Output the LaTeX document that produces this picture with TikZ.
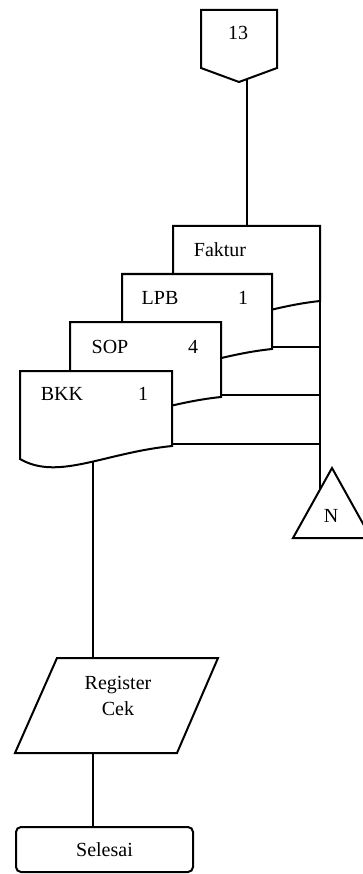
\documentclass[tikz,border=0pt]{standalone}
\usepackage{fontspec}
\setmainfont{Liberation Serif}
\usetikzlibrary{calc}
\newcommand\docshape[4]{%
  \draw[ln, fill=white] (#2,#3) coordinate (#1-tl) -- (#2+#4,#3) coordinate (#1-tr)
    -- (#2+#4,#3+75) coordinate (#1-br)
    .. controls (#2+0.55*#4,#3+82) and (#2+0.25*#4,#3+110) .. (#2,#3+88) coordinate (#1-bl)
    -- cycle;}
\begin{document}
\begin{tikzpicture}[x=1pt,y=-1pt,
  ln/.style={line width=2pt, line join=miter},
  lbl/.style={font=\fontsize{20}{26}\selectfont, inner sep=0pt},
]
\useasboundingbox (0,0) rectangle (363,874);
\begin{scope}
\clip (0,0) rectangle (363,874);
% off-page connector 13
\draw[ln] (201,10) coordinate (c-tl) -- (277,10) coordinate (c-tr) -- (277,68)
  -- (239,82) coordinate (c-pt) -- (201,68) -- cycle;
\node[lbl] (c13) at (238,33) {13};
\coordinate (c-out) at (247,79);
% documents
\docshape{fak}{173}{226}{147}
\node[lbl] (tfak) at (220,250) {Faktur};
\docshape{lpb}{122}{274}{150}
\node[lbl] (tlpb) at (160,298) {LPB};
\node[lbl] (nlpb) at (243,298) {1};
\docshape{sop}{70}{322}{151}
\node[lbl] (tsop) at (110,347) {SOP};
\node[lbl] (nsop) at (193,347) {4};
\docshape{bkk}{20}{371}{152}
\node[lbl] (tbkk) at (62,394) {BKK};
\node[lbl] (nbkk) at (143,394) {1};
\draw[ln] (c-out) -- (c-out |- fak-tl);
% triangle N
\draw[ln] (332,468) coordinate (n-apex) -- (371,538) coordinate (n-br)
  -- (293,538) coordinate (n-bl) -- cycle;
\node[lbl] (nN) at (331,516) {N};
\coordinate (n-hit) at ($(n-bl)!0.69!(n-apex)$);
\draw[ln] (fak-br) -- (fak-br |- n-hit);
\draw[ln] ($(lpb-br)+(0,-2)$) -- ($(lpb-br -| fak-br)+(0,-2)$);
\draw[ln] ($(sop-br)+(0,-2)$) -- ($(sop-br -| fak-br)+(0,-2)$);
\draw[ln] ($(bkk-br)+(0,-2)$) -- ($(bkk-br -| fak-br)+(0,-2)$);
% register cek
\draw[ln] (57,658) coordinate (r-tl) -- (218,658) coordinate (r-tr)
  -- (177,753) coordinate (r-br) -- (15,753) coordinate (r-bl) -- cycle;
\node[lbl, align=center] (reg) at (118,696) {Register\\Cek};
\coordinate (bkk-out) at (93,462);
\coordinate (r-top) at (93,658);
\coordinate (r-bot) at (93,753);
\draw[ln] (bkk-out) -- (r-top);
% selesai
\node[ln, draw, rounded corners=5pt, minimum width=177pt, minimum height=45pt, lbl]
  (end) at (104.5,849.5) {Selesai};
\draw[ln] (r-bot) -- (r-bot |- end.north);
\end{scope}
\end{tikzpicture}
\end{document}
